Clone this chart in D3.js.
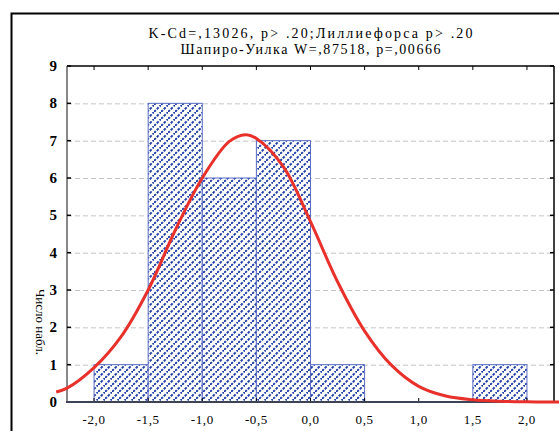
<!DOCTYPE html>
<html>
<head>
<meta charset="utf-8">
<script src="https://cdn.jsdelivr.net/npm/d3@7"></script>
<style>
  body { margin: 0; background: #fff; }
  svg { display: block; }
</style>
</head>
<body>
<svg id="drawing_region"></svg>
<script>
// histogram bins
const bin_lo = [-2.0, -1.5, -1.0, -0.5, 0.0, 0.5, 1.0, 1.5];
const bin_hi = [-1.5, -1.0, -0.5, 0.0, 0.5, 1.0, 1.5, 2.0];
const counts = [1, 8, 6, 7, 1, 0, 0, 1];

// fitted normal curve
const curve_x = [-2.35, -2.25, -2.0, -1.75, -1.5, -1.25, -1.0, -0.75, -0.6, -0.5, -0.25, 0.0, 0.25, 0.5, 0.75, 1.0, 1.25, 1.5, 1.75, 2.0, 2.25, 2.35];
const curve_y = [0.27, 0.37, 0.92, 1.75, 3.0, 4.6, 6.0, 6.98, 7.16, 7.06, 6.3, 4.83, 3.22, 1.9, 0.98, 0.42, 0.16, 0.06, 0.02, 0.005, 0.0, 0.0];

const x_ticks = [-2.0, -1.5, -1.0, -0.5, 0.0, 0.5, 1.0, 1.5, 2.0];
const x_tick_labels = ["-2,0", "-1,5", "-1,0", "-0,5", "0,0", "0,5", "1,0", "1,5", "2,0"];
const y_ticks = [0, 1, 2, 3, 4, 5, 6, 7, 8, 9];

const title_lines = ["K-Cd=,13026, p> .20;Лиллиефорса p> .20", "Шапиро-Уилка W=,87518, p=,00666"];
const y_label = "Число набл.";

const serif = "'Liberation Serif', 'DejaVu Serif', serif";

const config = {
    width: 559,
    height: 431,
    plot: {left: 67, right: 554, top: 66, bottom: 402},
    title_width: [324, 260]
};

const svg = d3.select('#drawing_region')
    .attr('width', config.width)
    .attr('height', config.height);

const xscale = d3.scaleLinear()
    .domain([-2.25, 2.25])
    .range([config.plot.left, config.plot.right]);

const yscale = d3.scaleLinear()
    .domain([0, 9])
    .range([config.plot.bottom, config.plot.top]);

// hatch pattern for the bars
const defs = svg.append('defs');
const pat = defs.append('pattern')
    .attr('id', 'hatch')
    .attr('patternUnits', 'userSpaceOnUse')
    .attr('width', 7)
    .attr('height', 7);
pat.append('rect').attr('width', 7).attr('height', 7).attr('fill', '#fff');
pat.append('path')
    .attr('d', 'M0,7 L7,0')
    .attr('stroke', '#2340a6')
    .attr('stroke-width', 2)
    .attr('stroke-dasharray', '2.6,1.35');

// outer frame
svg.append('rect')
    .attr('x', 11.5).attr('y', 13.5)
    .attr('width', 700).attr('height', 700)
    .attr('fill', 'none')
    .attr('stroke', '#000')
    .attr('stroke-width', 2);

// title
svg.append('g')
    .selectAll('text')
    .data(title_lines)
    .join('text')
    .attr('x', (config.plot.left + config.plot.right) / 2)
    .attr('y', (d, i) => 38 + i * 16)
    .attr('text-anchor', 'middle')
    .style('font-family', serif)
    .style('font-size', '14px')
    .attr('textLength', (d, i) => config.title_width[i])
    .attr('lengthAdjust', 'spacing')
    .text(d => d);

// grid lines
svg.append('g')
    .selectAll('line')
    .data(y_ticks.filter(d => d > 0 && d < 9))
    .join('line')
    .attr('x1', config.plot.left)
    .attr('x2', config.plot.right)
    .attr('y1', d => yscale(d) + 0.5)
    .attr('y2', d => yscale(d) + 0.5)
    .attr('stroke', '#c4c4c4')
    .attr('stroke-dasharray', '5,3');

// bars
svg.append('g')
    .selectAll('rect')
    .data(counts.map((c, i) => ({lo: bin_lo[i], hi: bin_hi[i], c: c})).filter(d => d.c > 0))
    .join('rect')
    .attr('x', d => xscale(d.lo))
    .attr('y', d => yscale(d.c))
    .attr('width', d => xscale(d.hi) - xscale(d.lo))
    .attr('height', d => yscale(0) - yscale(d.c))
    .attr('fill', 'url(#hatch)')
    .attr('stroke', '#5a6cc4')
    .attr('stroke-width', 1);

// axes (box with inward ticks)
const axes = svg.append('g');
axes.append('line')
    .attr('x1', config.plot.left).attr('x2', config.plot.right)
    .attr('y1', config.plot.top).attr('y2', config.plot.top)
    .attr('stroke', '#000').attr('stroke-width', 1.5);
axes.append('line')
    .attr('x1', config.plot.right).attr('x2', config.plot.right)
    .attr('y1', config.plot.top).attr('y2', config.plot.bottom)
    .attr('stroke', '#000').attr('stroke-width', 1.5);
axes.append('line')
    .attr('x1', config.plot.left).attr('x2', config.plot.left)
    .attr('y1', config.plot.top).attr('y2', config.plot.bottom)
    .attr('stroke', '#888').attr('stroke-width', 2);

// top and bottom ticks
[config.plot.top, config.plot.bottom].forEach((yy, k) => {
    axes.append('g')
        .selectAll('line')
        .data(x_ticks)
        .join('line')
        .attr('x1', d => xscale(d)).attr('x2', d => xscale(d))
        .attr('y1', yy).attr('y2', k === 0 ? yy + 4 : yy - 4)
        .attr('stroke', '#000').attr('stroke-width', 1);
});
// left and right ticks
[config.plot.left, config.plot.right].forEach((xx, k) => {
    axes.append('g')
        .selectAll('line')
        .data(y_ticks)
        .join('line')
        .attr('x1', xx).attr('x2', k === 0 ? xx + 4 : xx - 4)
        .attr('y1', d => yscale(d)).attr('y2', d => yscale(d))
        .attr('stroke', '#000').attr('stroke-width', 1.5);
});

axes.append('line')
    .attr('x1', config.plot.left - 1).attr('x2', config.plot.right)
    .attr('y1', config.plot.bottom).attr('y2', config.plot.bottom)
    .attr('stroke', '#3c4456').attr('stroke-width', 2);

// normal curve
const line = d3.line()
    .x(d => xscale(d[0]))
    .y(d => yscale(d[1]))
    .curve(d3.curveCatmullRom);

svg.append('path')
    .datum(curve_x.map((x, i) => [x, curve_y[i]]))
    .attr('d', line)
    .attr('fill', 'none')
    .attr('stroke', '#e8312b')
    .attr('stroke-width', 3);

// tick labels
svg.append('g')
    .selectAll('text')
    .data(y_ticks)
    .join('text')
    .attr('x', 57)
    .attr('y', d => yscale(d) + 5)
    .attr('text-anchor', 'end')
    .style('font-family', serif)
    .style('font-size', '15px')
    .style('font-weight', 'bold')
    .text(d => d);

svg.append('g')
    .selectAll('text')
    .data(x_ticks)
    .join('text')
    .attr('x', d => xscale(d))
    .attr('y', 424)
    .attr('text-anchor', 'middle')
    .style('font-family', serif)
    .style('font-size', '13px')
    .style('letter-spacing', '0.6px')
    .text((d, i) => x_tick_labels[i]);

// y label
svg.append('text')
    .attr('transform', 'translate(36, 322) rotate(90)')
    .attr('text-anchor', 'middle')
    .style('font-family', serif)
    .style('font-size', '13px')
    .text(y_label);
</script>
</body>
</html>
